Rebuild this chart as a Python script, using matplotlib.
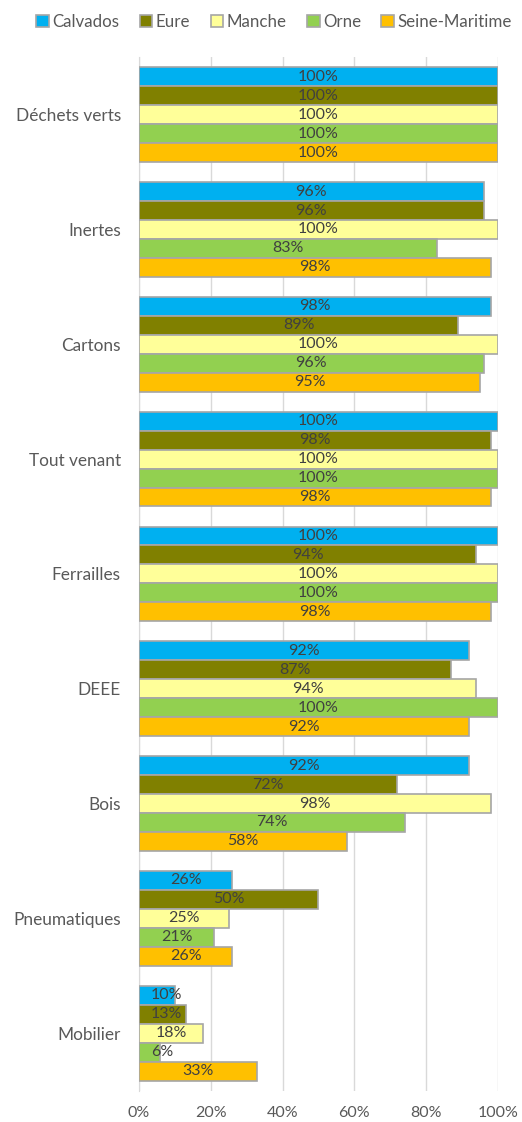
import numpy as np
from matplotlib import pyplot as plt
from matplotlib.patches import Patch

plt.rcParams['font.family'] = ['Lato', 'DejaVu Sans']

categories = ['Déchets verts', 'Inertes', 'Cartons', 'Tout venant', 'Ferrailles',
              'DEEE', 'Bois', 'Pneumatiques', 'Mobilier']
departements = ['Calvados', 'Eure', 'Manche', 'Orne', 'Seine-Maritime']
calvados = [100, 96, 98, 100, 100, 92, 92, 26, 10]
eure = [100, 96, 89, 98, 94, 87, 72, 50, 13]
manche = [100, 100, 100, 100, 100, 94, 98, 25, 18]
orne = [100, 83, 96, 100, 100, 100, 74, 21, 6]
seine_maritime = [100, 98, 95, 98, 98, 92, 58, 26, 33]
colors = ['#00B0F0', '#808000', '#FFFF99', '#92D050', '#FFC000']

series = [calvados, eure, manche, orne, seine_maritime]

fig = plt.figure(figsize=(5.22, 11.22), dpi=100)
ax = fig.add_axes([0.266, 0.028, 0.688, 0.921])

y = np.arange(len(categories))
h = 0.165
for i, (vals, col) in enumerate(zip(series, colors)):
    pos = y + (i - 2) * h
    ax.barh(pos, vals, height=h, color=col, edgecolor='#A6A6A6', linewidth=1.2, zorder=3)
    for p, v in zip(pos, vals):
        # petites barres : étiquette calée à gauche pour ne pas couper l'axe
        if v >= 15:
            ax.text(v / 2, p, f'{v}%', ha='center', va='center',
                    fontsize=11.5, color='#404040', zorder=4)
        else:
            ax.text(3.4, p, f'{v}%', ha='left', va='center',
                    fontsize=11.5, color='#404040', zorder=4)

ax.set_xlim(0, 100)
ax.set_ylim(8.5, -0.5)
ax.set_yticks(y)
ax.set_yticklabels(categories, fontsize=12.4, color='#595959')
ax.set_xticks(np.arange(0, 101, 20))
ax.set_xticklabels([f'{t}%' for t in range(0, 101, 20)], fontsize=11.5, color='#595959')
ax.tick_params(axis='y', length=0, pad=13)
ax.tick_params(axis='x', length=0, pad=11)
ax.grid(axis='x', color='#D9D9D9', linewidth=1, zorder=0)
for s in ['top', 'right', 'bottom']:
    ax.spines[s].set_visible(False)
ax.spines['left'].set_color('#D9D9D9')

handles = [Patch(facecolor=c, edgecolor='#A6A6A6', linewidth=1.2) for c in colors]
fig.legend(handles, departements, loc='upper center', bbox_to_anchor=(0.525, 1.001),
           ncol=5, frameon=False, fontsize=12.2, handlelength=0.75, handleheight=0.75,
           handletextpad=0.2, columnspacing=1.2, labelcolor='#595959')

fig.savefig('out.png', dpi=100)
